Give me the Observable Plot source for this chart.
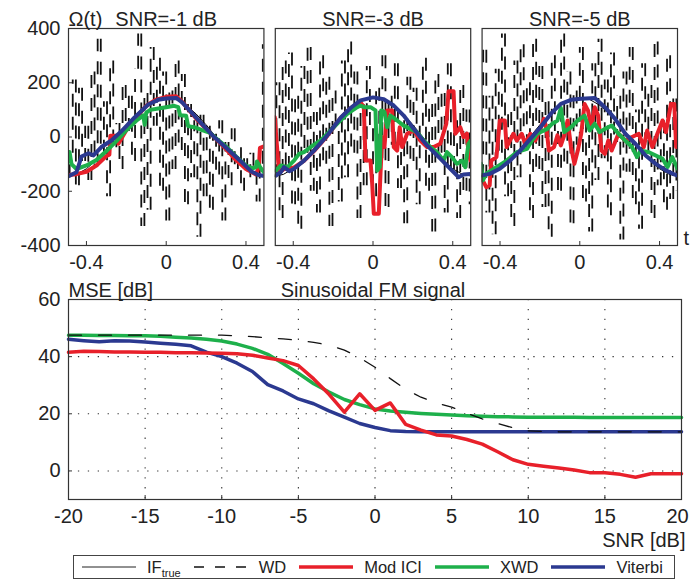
<!DOCTYPE html>
<html><head><meta charset="utf-8">
<script src="https://cdn.jsdelivr.net/npm/d3@7"></script>
<script src="https://cdn.jsdelivr.net/npm/@observablehq/plot@0.6"></script>
<style>
body{margin:0;background:#fff;}
#wrap{position:relative;width:691px;height:581px;font-family:"Liberation Sans",Arial,sans-serif;color:#222;overflow:hidden;}
.abs{position:absolute;left:0;}
#legend{position:absolute;left:73px;top:555px;width:602px;height:24px;box-sizing:border-box;border:1px solid #444;display:flex;align-items:center;padding-left:8px;font-size:16.5px;white-space:nowrap;background:#fff;}
#legend svg{display:block;flex:none;}
#legend .lab{margin-left:11px;margin-right:13px;line-height:1;}
#legend sub{font-size:11px;vertical-align:-4px;line-height:0;}
</style></head>
<body><div id="wrap"><div id="top" class="abs" style="top:0"></div><div id="bottom" class="abs" style="top:276px"></div><div id="legend"></div></div>
<script>
// ---------- top panels ----------
const panels = ["SNR=-1 dB", "SNR=-3 dB", "SNR=-5 dB"];
const xTicksTop = [-0.4, 0, 0.4];
const yTicksTop = [-400, -200, 0, 200, 400];

// true IF (thin black)
const tIF = [-0.5,-0.45,-0.4,-0.35,-0.3,-0.25,-0.2,-0.15,-0.1,-0.05,0,0.05,0.1,0.15,0.2,0.25,0.3,0.35,0.4,0.45,0.5];
const ifTrue = [-145,-138,-117,-85,-45,0,45,85,117,138,145,138,117,85,45,0,-45,-85,-117,-138,-145];

// WD estimates (black dashed), 65 samples across t in [-0.5, 0.5]
const wd1 = [-150,-60,210,-180,180,-90,40,-160,240,-110,360,-60,130,
  -220,280,-40,50,-120,190,20,150,-90,250,380,-330,160,
  -270,330,40,290,-200,240,-310,170,-120,280,-50,230,-250,
  120,-150,60,-370,80,-220,40,-270,10,-140,60,-310,-20,
  -180,30,-120,-40,-200,-80,-150,-60,-130,-240,-100,340,-150];
const wd2 = [-150,200,-300,280,-120,310,-250,150,-340,260,-60,330,-200,
  90,-280,300,-100,220,-330,170,20,-240,280,-150,350,-60,
  240,-300,120,-180,260,30,-220,180,-80,300,-260,150,-30,
  270,-190,60,-320,220,-90,180,-250,40,290,-200,120,-350,
  230,-60,160,-280,270,-120,60,-300,190,-200,100,-250,-140];
const wd3 = [-150,320,-280,150,-360,250,-60,380,-220,90,-330,280,-150,
  340,-40,200,-300,360,-120,260,-260,130,-370,300,20,-200,
  380,-100,240,-320,170,-30,330,-240,90,-350,270,-160,360,
  -80,210,-290,310,-20,150,-380,240,-130,330,-250,100,-340,
  270,-60,190,-300,350,-180,60,-270,300,-230,140,-200,-150];

// Mod ICI (red)
const red1 = [[-0.49,-140],[-0.45,-137],[-0.4,-128],[-0.35,-105],[-0.3,-70],[-0.285,-65],[-0.28,5],[-0.245,5],[-0.24,-25],[-0.2,25],[-0.15,72],[-0.1,115],[-0.05,138],[0,148],[0.05,150],[0.08,130],[0.1,112],[0.15,68],[0.2,30],[0.25,-8],[0.3,-45],[0.35,-85],[0.4,-118],[0.45,-138],[0.465,-110],[0.47,-40],[0.49,-35]];
const red2 = [[-0.4925,73],[-0.4825,-25],[-0.471,-130],[-0.446,-118],[-0.396,-112],[-0.346,-88],[-0.296,-52],[-0.229,4],[-0.1625,70],[-0.1125,106],[-0.0625,128],[-0.046,110],[-0.0375,-87],[-0.0125,-87],[-0.004,-173],[0.004,-283],[0.029,-283],[0.0375,-136],[0.046,0],[0.0575,-37],[0.071,98],[0.096,98],[0.104,-37],[0.121,-50],[0.134,36],[0.146,-37],[0.171,12],[0.204,24],[0.2375,-13],[0.271,-37],[0.304,-37],[0.3375,-25],[0.3675,49],[0.379,169],[0.404,169],[0.4125,12],[0.4375,36],[0.454,0],[0.471,12],[0.479,-62],[0.49,-87]];
const red3 = [[-0.495,-148],[-0.469,-185],[-0.452,-178],[-0.444,-87],[-0.418,-74],[-0.401,61],[-0.376,61],[-0.367,-37],[-0.333,12],[-0.316,-13],[-0.291,12],[-0.274,-25],[-0.248,12],[-0.223,-13],[-0.197,30],[-0.18,67],[-0.167,30],[-0.155,-50],[-0.129,-37],[-0.112,6],[-0.095,-31],[-0.078,6],[-0.061,61],[-0.044,-37],[-0.027,-99],[-0.01,-50],[0.007,12],[0.024,122],[0.041,98],[0.058,36],[0.075,110],[0.092,79],[0.109,-50],[0.126,-62],[0.143,-13],[0.16,-50],[0.194,12],[0.228,-13],[0.262,0],[0.296,12],[0.321,-37],[0.338,24],[0.364,-37],[0.389,12],[0.415,61],[0.432,18],[0.457,122],[0.474,122],[0.483,-37],[0.5,-25]];

// XWD (green)
const green1 = [[-0.49,-90],[-0.485,-55],[-0.475,-100],[-0.45,-118],[-0.4,-105],[-0.35,-85],[-0.3,-52],[-0.25,-15],[-0.2,25],[-0.15,60],[-0.115,80],[-0.108,45],[-0.1,90],[-0.08,100],[-0.04,105],[0,110],[0.04,115],[0.06,110],[0.07,80],[0.1,78],[0.11,40],[0.14,36],[0.18,25],[0.22,15],[0.25,-5],[0.3,-35],[0.35,-72],[0.4,-105],[0.43,-115],[0.45,-112],[0.455,-90],[0.47,-110],[0.49,-130]];
const green2 = [[-0.4875,-124],[-0.4625,-105],[-0.429,-111],[-0.396,-87],[-0.371,-62],[-0.346,-56],[-0.3125,-37],[-0.2625,-13],[-0.229,12],[-0.179,49],[-0.129,85],[-0.079,110],[-0.0625,116],[-0.046,110],[-0.0125,110],[0.0125,98],[0.021,-124],[0.034,-111],[0.041,98],[0.0575,92],[0.071,36],[0.0875,79],[0.121,61],[0.154,42],[0.1875,30],[0.221,18],[0.254,-13],[0.2875,-37],[0.321,-56],[0.354,-87],[0.371,-56],[0.396,-74],[0.421,-99],[0.446,-87],[0.4625,-111],[0.479,-25],[0.49,-13]];
const green3 = [[-0.495,-99],[-0.486,-160],[-0.469,-135],[-0.418,-111],[-0.367,-87],[-0.316,-56],[-0.265,-44],[-0.24,-13],[-0.214,12],[-0.163,30],[-0.138,49],[-0.112,61],[-0.095,107],[-0.078,18],[-0.044,36],[-0.01,61],[0.024,79],[0.049,24],[0.075,49],[0.1,18],[0.126,30],[0.16,42],[0.194,12],[0.228,-13],[0.262,-37],[0.287,-74],[0.304,-50],[0.347,-56],[0.381,-68],[0.415,-80],[0.44,-111],[0.464,-74],[0.49,-117]];

// Viterbi (blue)
const blue1 = [[-0.49,-145],[-0.45,-130],[-0.425,-72],[-0.39,-60],[-0.365,-68],[-0.325,-37],[-0.275,-13],[-0.225,21],[-0.16,71],[-0.09,120],[-0.04,137],[0,142],[0.05,144],[0.08,128],[0.125,92],[0.175,51],[0.24,0],[0.31,-46],[0.375,-90],[0.425,-126],[0.46,-139],[0.49,-144]];
const blue2 = [[-0.4875,-142],[-0.4625,-130],[-0.446,-111],[-0.42,-126],[-0.396,-117],[-0.346,-87],[-0.296,-50],[-0.229,6],[-0.1625,71],[-0.1125,107],[-0.0625,135],[0,146],[0.054,139],[0.104,116],[0.154,79],[0.204,30],[0.271,-31],[0.3375,-80],[0.3875,-117],[0.429,-148],[0.454,-138],[0.4875,-136]];
const blue3 = [[-0.495,-142],[-0.452,-136],[-0.401,-117],[-0.35,-87],[-0.299,-50],[-0.248,-7],[-0.197,36],[-0.146,85],[-0.095,122],[-0.044,137],[0.007,141],[0.075,144],[0.126,110],[0.177,67],[0.228,12],[0.279,-25],[0.33,-68],[0.381,-99],[0.432,-123],[0.474,-138],[0.5,-145]];

// ---------- bottom panel ----------
const snr = [-20,-19,-18,-17,-16,-15,-14,-13,-12,-11,-10,-9,-8,-7,-6,-5,-4,-3,-2,-1,0,1,2,3,4,5,6,7,8,9,10,11,12,13,14,15,16,17,18,19,20];
const wdMse = [47.5,47.5,47.5,47.5,47.5,47.5,47.5,47.5,47.5,47.5,47.5,47.3,47,46.6,46.2,45.7,45,44,42.3,39.6,36.3,32.3,28.6,25.8,23.8,22.3,20.2,18.2,16.6,15.1,14,13.8,13.7,13.7,13.7,13.7,13.7,13.7,13.7,13.7,13.7];
const modIciMse = [41.5,41.9,41.8,41.6,41.6,41.5,41.5,41.4,41.4,41.3,41.2,41,40.5,39.5,38.6,36.9,32.2,26.8,20.6,27,21.2,23.8,16.3,14.3,12.6,12.2,11,9.4,6.7,3.9,2.3,1.6,1,0.3,-0.6,-0.6,-1.2,-2.2,-1,-1,-1];
const xwdMse = [47.5,47.5,47.4,47.4,47.3,47.3,47.1,46.8,46.5,46.1,45.5,44.4,42.9,40.8,37.6,34.2,30.5,27.6,25,23.2,21.7,21,20.5,20.1,19.8,19.6,19.3,19.1,19,18.9,18.8,18.8,18.8,18.8,18.7,18.7,18.7,18.7,18.7,18.7,18.7];
const viterbiMse = [46.1,45.6,45.2,45.6,45.5,45.1,44.7,44.3,43.8,41.6,40,37.7,34.8,30.2,28,25.2,23.5,21,18.8,16.6,15.2,14.1,13.8,13.7,13.7,13.7,13.7,13.7,13.7,13.7,13.7,13.7,13.7,13.7,13.7,13.7,13.7,13.7,13.7,13.7,13.7];
const xTicksBottom = [-20,-15,-10,-5,0,5,10,15,20];
const yTicksBottom = [0,20,40,60];

// ---------- legend ----------
const legendNames = ["IF", "WD", "Mod ICI", "XWD", "Viterbi"];
const legendSubs = ["true", "", "", "", ""];
const legendColors = ["#222", "#111", "#e8202a", "#1eb04b", "#2b3990"];
const legendWidths = [1, 1.3, 3.5, 3.5, 3.5];
const legendDashes = [null, "10,11", null, null, null];

// ---------- build ----------
const FONT = '"Liberation Sans", Arial, sans-serif';
const ink = "#222";
const RED = legendColors[2], GREEN = legendColors[3], BLUE = legendColors[4];

// WD drawn as vertical dashed jumps between consecutive samples
const wdSegs = (p, vals) => vals.slice(1).map((v, i) => ({panel: p, t: -0.5 + (i + 1) / (vals.length - 1), v0: vals[i], v1: v}));
const fromPairs = (p, pairs) => pairs.map(([t, v]) => ({panel: p, t, v}));
const wdRows = [...wdSegs(panels[0], wd1), ...wdSegs(panels[1], wd2), ...wdSegs(panels[2], wd3)];
const ifRows = panels.flatMap(p => tIF.map((t, i) => ({panel: p, t, v: ifTrue[i]})));
const redRows = [...fromPairs(panels[0], red1), ...fromPairs(panels[1], red2), ...fromPairs(panels[2], red3)];
const greenRows = [...fromPairs(panels[0], green1), ...fromPairs(panels[1], green2), ...fromPairs(panels[2], green3)];
const blueRows = [...fromPairs(panels[0], blue1), ...fromPairs(panels[1], blue2), ...fromPairs(panels[2], blue3)];

const lineOpts = (stroke, w, extra = {}) => ({x: "t", y: "v", fx: "panel", stroke, strokeWidth: w, clip: true, strokeLinejoin: "round", ...extra});

const topPlot = Plot.plot({
  width: 691, height: 276,
  marginLeft: 68, marginRight: 14, marginTop: 28, marginBottom: 31,
  style: {fontFamily: FONT, fontSize: "20px", color: ink, background: "#fff", overflow: "visible"},
  fx: {domain: panels, paddingInner: 0.055, paddingOuter: 0, round: false, label: null},
  x: {domain: [-0.49, 0.49], label: null},
  y: {domain: [-400, 400], label: null},
  marks: [
    Plot.ruleX(wdRows, {x: "t", y1: "v0", y2: "v1", fx: "panel", stroke: "#111", strokeWidth: 1.8, strokeDasharray: "13,10", clip: true}),
    Plot.line(ifRows, lineOpts("#000", 1)),
    Plot.line(redRows, lineOpts(RED, 4)),
    Plot.line(greenRows, lineOpts(GREEN, 4)),
    Plot.line(blueRows, lineOpts(BLUE, 4)),
    Plot.frame({stroke: "#333", strokeWidth: 1.2}),
    Plot.axisFx({anchor: "top", tickSize: 0, tickPadding: 3, label: null}),
    Plot.axisY({ticks: yTicksTop, tickFormat: String, tickSize: 0, tickPadding: 8, label: null}),
    Plot.axisY({ticks: yTicksTop, tickSize: -4, fill: "none", stroke: "#333", label: null}),
    Plot.axisX({ticks: xTicksTop, tickFormat: String, tickSize: 0, tickPadding: 9, label: null}),
    Plot.axisX({ticks: xTicksTop, tickSize: -4, fill: "none", stroke: "#333", label: null}),
    Plot.text([{panel: panels[0], label: "Ω(t)"}], {fx: "panel", text: "label", frameAnchor: "top-left", textAnchor: "start", lineAnchor: "bottom", dy: -3, fill: ink}),
    Plot.text([{panel: panels[2], label: "t"}], {fx: "panel", text: "label", frameAnchor: "bottom-right", textAnchor: "start", lineAnchor: "bottom", dx: 6, dy: -1, fill: ink})
  ]
});
document.getElementById("top").appendChild(topPlot);

const mseRows = (vals) => snr.map((s, i) => ({snr: s, v: vals[i]}));
const dotted = {stroke: "#333", strokeOpacity: 1, strokeWidth: 1.1, strokeDasharray: "1.3,8.6"};
const bottomPlot = Plot.plot({
  width: 691, height: 272,
  marginLeft: 68, marginRight: 10, marginTop: 23, marginBottom: 49,
  style: {fontFamily: FONT, fontSize: "20px", color: ink, background: "#fff", overflow: "visible"},
  x: {domain: [-20, 20], label: null},
  y: {domain: [-10, 60], label: null},
  marks: [
    Plot.gridX({ticks: xTicksBottom.slice(1, -1), ...dotted}),
    Plot.gridY({ticks: yTicksBottom.slice(0, -1), ...dotted}),
    Plot.line(mseRows(xwdMse), {x: "snr", y: "v", stroke: GREEN, strokeWidth: 3.5}),
    Plot.line(mseRows(viterbiMse), {x: "snr", y: "v", stroke: BLUE, strokeWidth: 3.5}),
    Plot.line(mseRows(modIciMse), {x: "snr", y: "v", stroke: RED, strokeWidth: 3.5}),
    Plot.line(mseRows(wdMse), {x: "snr", y: "v", stroke: "#111", strokeWidth: 1.3, strokeDasharray: "13,17"}),
    Plot.frame({stroke: "#333", strokeWidth: 1.2}),
    Plot.axisY({ticks: yTicksBottom, tickFormat: String, tickSize: 0, tickPadding: 8, label: null}),
    Plot.axisY({ticks: yTicksBottom, tickSize: -4, fill: "none", stroke: "#333", label: null}),
    Plot.axisX({ticks: xTicksBottom.slice(0, -1), tickFormat: String, tickSize: 0, tickPadding: 9, label: null}),
    Plot.axisX({ticks: xTicksBottom.slice(-1), tickFormat: String, tickSize: 0, tickPadding: 9, dx: -4, label: null}),
    Plot.axisX({ticks: xTicksBottom, tickSize: -4, fill: "none", stroke: "#333", label: null}),
    Plot.text(["MSE [dB]"], {frameAnchor: "top-left", textAnchor: "start", lineAnchor: "bottom", dy: -3, fill: ink}),
    Plot.text(["Sinusoidal FM signal"], {frameAnchor: "top", lineAnchor: "bottom", dy: -3, dx: -2, fill: ink}),
    Plot.text(["SNR [dB]"], {frameAnchor: "bottom-right", textAnchor: "end", lineAnchor: "middle", dx: 4, dy: 41, fill: ink})
  ]
});
document.getElementById("bottom").appendChild(bottomPlot);

// legend
const legend = document.getElementById("legend");
legendNames.forEach((name, i) => {
  const svg = d3.create("svg").attr("width", 54).attr("height", 12);
  svg.append("line").attr("x1", 0).attr("x2", 54).attr("y1", 6).attr("y2", 6)
    .attr("stroke", legendColors[i]).attr("stroke-width", legendWidths[i])
    .attr("stroke-dasharray", legendDashes[i]);
  legend.appendChild(svg.node());
  const lab = document.createElement("span");
  lab.className = "lab";
  lab.textContent = name;
  if (legendSubs[i]) { const s = document.createElement("sub"); s.textContent = legendSubs[i]; lab.appendChild(s); }
  legend.appendChild(lab);
});
</script>
</body></html>
